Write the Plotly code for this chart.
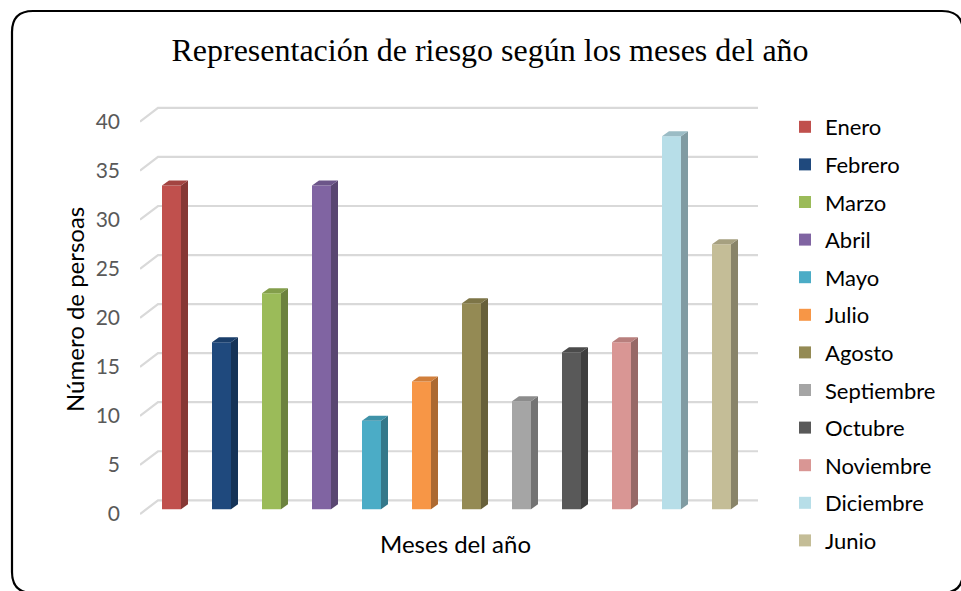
import plotly.graph_objects as go

# ---- data ----
months = ["Enero", "Febrero", "Marzo", "Abril", "Mayo", "Julio", "Agosto",
          "Septiembre", "Octubre", "Noviembre", "Diciembre", "Junio"]
values = [33, 17, 22, 33, 9, 13, 21, 11, 16, 17, 38, 27]
front_colors = ["#C0504D", "#1F497D", "#9BBB59", "#8064A2", "#4BACC6", "#F79646",
                "#948A54", "#A5A5A5", "#595959", "#D99694", "#B7DEE8", "#C4BD97"]
y_ticks = [0, 5, 10, 15, 20, 25, 30, 35, 40]

title_text = "Representación de riesgo según los meses del año"
x_title = "Meses del año"
y_title = "Número de persoas"

# ---- geometry of the pseudo-3D look (in axis units) ----
BAR_W = 0.38        # front face width
BAR_BASE = 0.5      # bars sit a little behind the front floor edge
DX, DY = 0.14, 0.51  # bar depth offset
WALL_DY = 1.4        # back wall offset
X_FRONT, X_BACK, X_END = -0.63, -0.27, 11.73

W, H = 961, 591
L, T = 140, 104
R = W - 760
B = H - 516


def px_x(sx):
    return (sx - L) / (W - L - R)


def px_y(sy):
    return 1 - (sy - T) / (H - T - B)


def shade(hex_color, f):
    h = hex_color.lstrip("#")
    r, g, b = (int(h[i:i + 2], 16) for i in (0, 2, 4))
    return "rgb(%d,%d,%d)" % (int(r * f), int(g * f), int(b * f))


fig = go.Figure()

# bars (front faces)
for i, (m, v, c) in enumerate(zip(months, values, front_colors)):
    fig.add_trace(go.Bar(
        x=[i], y=[v], base=BAR_BASE, width=BAR_W, name=m,
        marker=dict(color=c, line=dict(width=0)), legendgroup=m,
        hovertemplate=m + ": %{y}<extra></extra>"))

# side and top faces
for i, (m, v, c) in enumerate(zip(months, values, front_colors)):
    xl, xr = i - BAR_W / 2, i + BAR_W / 2
    top = v + BAR_BASE
    fig.add_trace(go.Scatter(
        x=[xr, xr + DX, xr + DX, xr, xr],
        y=[BAR_BASE, BAR_BASE + DY, top + DY, top, BAR_BASE],
        fill="toself", fillcolor=shade(c, 0.7), mode="lines",
        line=dict(width=0, color=shade(c, 0.7)), legendgroup=m,
        showlegend=False, hoverinfo="skip"))
    fig.add_trace(go.Scatter(
        x=[xl, xr, xr + DX, xl + DX, xl],
        y=[top, top, top + DY, top + DY, top],
        fill="toself", fillcolor=shade(c, 0.85), mode="lines",
        line=dict(width=0, color=shade(c, 0.85)), legendgroup=m,
        showlegend=False, hoverinfo="skip"))

# gridlines (below the bars): diagonal floor/wall edge plus back wall line
grid_shapes = []
for t in y_ticks:
    grid_shapes.append(dict(
        type="path", xref="x", yref="y", layer="below",
        path="M %f,%f L %f,%f L %f,%f" % (X_FRONT, t, X_BACK, t + WALL_DY,
                                          X_END, t + WALL_DY),
        line=dict(color="#D9D9D9", width=2.2)))

# rounded chart frame (extends slightly past the right and bottom edges)
fx0, fy0, fx1, fy1, rad = 12, 11, 963, 593, 21
border_shapes = [
    dict(type="path", xref="paper", yref="paper", layer="above",
         path=("M %f,%f L %f,%f Q %f,%f %f,%f L %f,%f Q %f,%f %f,%f "
               "L %f,%f Q %f,%f %f,%f L %f,%f Q %f,%f %f,%f Z") % (
             px_x(fx0 + rad), px_y(fy0),
             px_x(fx1 - rad), px_y(fy0),
             px_x(fx1), px_y(fy0), px_x(fx1), px_y(fy0 + rad),
             px_x(fx1), px_y(fy1 - rad),
             px_x(fx1), px_y(fy1), px_x(fx1 - rad), px_y(fy1),
             px_x(fx0 + rad), px_y(fy1),
             px_x(fx0), px_y(fy1), px_x(fx0), px_y(fy1 - rad),
             px_x(fx0), px_y(fy0 + rad),
             px_x(fx0), px_y(fy0), px_x(fx0 + rad), px_y(fy0)),
         line=dict(color="black", width=2.2)),
]

fig.update_layout(
    width=W, height=H,
    margin=dict(l=L, r=R, t=T, b=B),
    paper_bgcolor="white", plot_bgcolor="white",
    showlegend=True,
    barmode="overlay",
    font=dict(family="Lato, Open Sans, sans-serif", color="#000000"),
    title=dict(text=title_text, x=490 / W, xanchor="center",
               y=1 - 50 / H, yanchor="middle",
               font=dict(family="Liberation Serif, Times New Roman, serif",
                         size=32, color="#000000")),
    xaxis=dict(range=[X_FRONT, 11.77], showgrid=False, zeroline=False,
               showticklabels=False, ticks="", showline=False, fixedrange=True),
    yaxis=dict(range=[-0.2, 41.8], showgrid=False, zeroline=False,
               tickmode="array", tickvals=y_ticks,
               ticktext=[str(t) for t in y_ticks], ticks="",
               tickfont=dict(size=21, color="#595959"), ticklabelstandoff=19,
               showline=False, fixedrange=True),
    legend=dict(x=px_x(785), xanchor="left",
                y=px_y(106), yanchor="top",
                font=dict(size=22, color="#000000"),
                tracegroupgap=6, itemwidth=30, maxheight=560,
                bgcolor="rgba(0,0,0,0)"),
    annotations=[
        dict(text=x_title, xref="paper", yref="paper",
             x=px_x(455), y=px_y(543),
             xanchor="center", yanchor="middle", showarrow=False,
             font=dict(size=24, color="#000000")),
        dict(text=y_title, xref="paper", yref="paper",
             x=px_x(74), y=px_y(310),
             xanchor="center", yanchor="middle", showarrow=False, textangle=-90,
             font=dict(size=24, color="#000000")),
    ],
    shapes=grid_shapes + border_shapes,
)

fig.write_html(
    "out.html",
    config={"displayModeBar": False},
    post_script="document.body.style.margin='0';"
                "document.body.style.overflow='hidden';",
)
